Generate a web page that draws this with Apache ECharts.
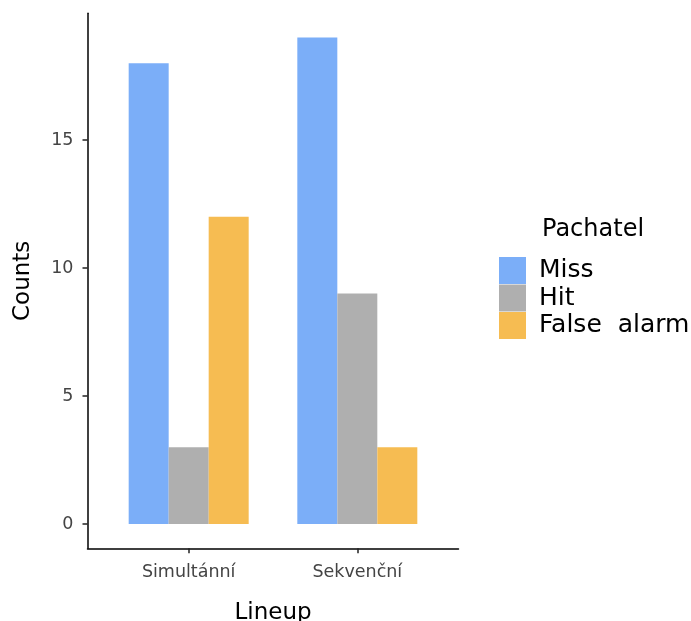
<!DOCTYPE html>
<html>
<head>
<meta charset="utf-8">
<script src="https://cdn.jsdelivr.net/npm/echarts@6/dist/echarts.min.js"></script>
<style>
html,body{margin:0;padding:0;background:#fff;}
#chart{width:691px;height:621px;}
</style>
</head>
<body>
<div id="chart"></div>
<script>
const categories = ['Simultánní', 'Sekvenční'];
const seriesNames = ['Miss', 'Hit', 'False  alarm'];
const missValues = [18, 19];
const hitValues = [3, 9];
const falseAlarmValues = [12, 3];
const yTicks = [0, 5, 10, 15];
const colors = ['#7BAEF8', '#AFAFAF', '#F6BC52'];

const valueLists = [missValues, hitValues, falseAlarmValues];
const catPositions = categories.map((c, i) => i + 1);
const FONT = 'DejaVu Sans';

const chart = echarts.init(document.getElementById('chart'), null, {renderer: 'canvas'});
chart.setOption({
  animation: false,
  backgroundColor: '#ffffff',
  title: {
    text: 'Pachatel',
    left: 542,
    top: 218,
    padding: 0,
    textStyle: {fontFamily: FONT, fontSize: 24, fontWeight: 'normal', color: '#000'}
  },
  legend: {
    orient: 'vertical',
    left: 499,
    top: 257,
    itemWidth: 27,
    itemHeight: 27,
    itemGap: 0.5,
    padding: 0,
    icon: 'rect',
    textStyle: {fontFamily: FONT, fontSize: 25, color: '#000', padding: [0, 0, 0, 8], lineHeight: 27},
    data: seriesNames
  },
  grid: {
    left: 87.5,
    top: 13.3,
    width: 371,
    height: 535,
    containLabel: false,
    outerBoundsMode: 'none'
  },
  xAxis: {
    type: 'value',
    min: 0.4,
    max: 2.6,
    name: 'Lineup',
    nameLocation: 'middle',
    nameGap: 53,
    nameTextStyle: {fontFamily: FONT, fontSize: 23, color: '#000'},
    axisLine: {show: true, onZero: false, lineStyle: {color: '#000', width: 1.5}},
    axisTick: {show: true, length: 5, customValues: catPositions, lineStyle: {color: '#222', width: 1.5}},
    axisLabel: {
      customValues: catPositions,
      margin: 15,
      fontFamily: FONT,
      fontSize: 17.5,
      color: '#444',
      formatter: v => categories[Math.round(v) - 1] || ''
    },
    splitLine: {show: false}
  },
  yAxis: {
    type: 'value',
    min: -0.95,
    max: 19.95,
    name: 'Counts',
    nameLocation: 'middle',
    nameGap: 53,
    nameRotate: 90,
    nameTextStyle: {fontFamily: FONT, fontSize: 23, color: '#000'},
    axisLine: {show: true, onZero: false, lineStyle: {color: '#000', width: 1.5}},
    axisTick: {show: true, length: 5, customValues: yTicks, lineStyle: {color: '#222', width: 1.5}},
    axisLabel: {
      customValues: yTicks,
      margin: 14,
      fontFamily: FONT,
      fontSize: 17.5,
      color: '#444'
    },
    splitLine: {show: false}
  },
  series: seriesNames.map((name, s) => ({
    name: name,
    type: 'bar',
    barWidth: 40,
    barGap: '0%',
    itemStyle: {color: colors[s]},
    data: catPositions.map((x, i) => [x, valueLists[s][i]])
  }))
});
</script>
</body>
</html>
